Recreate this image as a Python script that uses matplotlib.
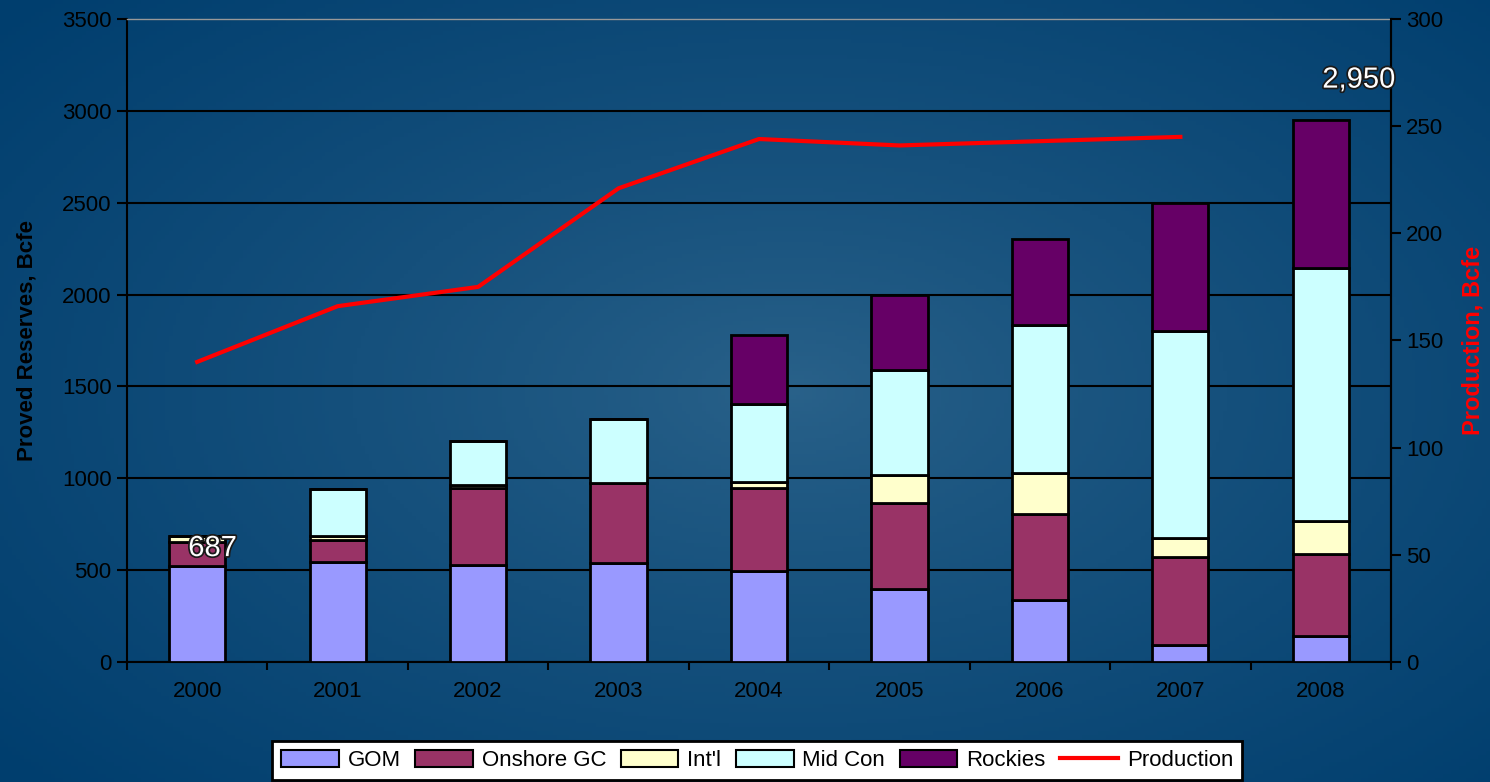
import matplotlib
matplotlib.use("Agg")
import matplotlib.pyplot as plt
import matplotlib.patheffects as pe
from matplotlib.patches import Patch
from matplotlib.lines import Line2D
import numpy as np

plt.rcParams["font.family"] = ["Liberation Sans", "DejaVu Sans"]

years = ["2000", "2001", "2002", "2003", "2004", "2005", "2006", "2007", "2008"]
gom = [520, 545, 530, 540, 497, 395, 340, 95, 140]
onshore = [135, 117, 415, 435, 448, 470, 465, 475, 445]
intl = [32, 23, 20, 0, 33, 155, 225, 105, 180]
midcon = [0, 255, 240, 345, 427, 570, 805, 1125, 1380]
rockies = [0, 0, 0, 0, 375, 410, 465, 700, 805]
production = [140, 166, 175, 221, 244, 241, 243, 245]

series = [("GOM", gom, "#9999ff"), ("Onshore GC", onshore, "#993366"),
          ("Int'l", intl, "#ffffcc"), ("Mid Con", midcon, "#ccffff"),
          ("Rockies", rockies, "#660066")]

fig = plt.figure(figsize=(14.9, 7.82), dpi=100)

# background: dark blue with lighter centre
bg = fig.add_axes([0, 0, 1, 1], zorder=-10)
yy, xx = np.mgrid[0:1:200j, 0:1:380j]
r = np.sqrt(((xx - 0.53) / 0.7) ** 2 + ((yy - 0.5) / 0.75) ** 2)
r = np.clip(r, 0, 1) ** 0.8
c0 = np.array([0x2a, 0x62, 0x8a]) / 255
c1 = np.array([0x00, 0x3e, 0x6e]) / 255
img = c0[None, None, :] * (1 - r[..., None]) + c1[None, None, :] * r[..., None]
bg.imshow(img, aspect="auto", extent=[0, 1, 0, 1])
bg.axis("off")

ax = fig.add_axes([0.0852, 0.1535, 0.8484, 0.8222])
ax.set_facecolor("none")
x = np.arange(len(years))
bottom = np.zeros(len(years))
for name, vals, col in series:
    v = np.array(vals)
    ax.bar(x, v, 0.4, bottom=bottom, color=col, edgecolor="black", linewidth=2, zorder=3)
    bottom += v

ax.set_xlim(-0.5, len(years) - 0.5)
ax.set_ylim(0, 3500)
ax.set_yticks(range(0, 3501, 500))
ax.yaxis.grid(True, color="black", linewidth=1.5, zorder=1)
ax.set_axisbelow(True)
ax.set_xticks(x)
ax.set_xticklabels(years)
ax.set_xticks(np.arange(-0.5, len(years)), minor=True)
ax.tick_params(axis="x", which="major", length=0, pad=14, labelsize=16, labelcolor="black")
ax.tick_params(axis="x", which="minor", length=6, width=1.5, color="black")
ax.tick_params(axis="y", length=7, width=1.5, color="black", labelsize=16, labelcolor="black", pad=4)
for s in ["left", "bottom", "right"]:
    ax.spines[s].set_color("black")
    ax.spines[s].set_linewidth(1.5)
ax.spines["top"].set_color("#999999")
ax.spines["top"].set_linewidth(1)
ax.set_ylabel("Proved Reserves, Bcfe", fontsize=16, fontweight="bold", color="black",
              labelpad=18)

ax2 = ax.twinx()
ax2.plot(x[:len(production)], production, color="red", linewidth=3, zorder=5)
ax2.set_ylim(0, 300)
ax2.set_yticks(range(0, 301, 50))
ax2.tick_params(axis="y", length=7, width=1.5, color="black", labelsize=16, labelcolor="black", pad=4)
ax2.spines["right"].set_color("black")
ax2.spines["right"].set_linewidth(1.5)
for s in ["left", "top", "bottom"]:
    ax2.spines[s].set_visible(False)
ax2.set_ylabel("Production, Bcfe", fontsize=17, fontweight="bold", color="red", labelpad=13)

outline = [pe.withStroke(linewidth=2.5, foreground="#1a1a1a")]
ax2.text(0.11, 620 * 300 / 3500, "687", color="white", fontsize=21, ha="center", va="center",
         path_effects=outline, clip_on=False)
ax2.text(8.27, 3170 * 300 / 3500, "2,950", color="white", fontsize=21, ha="center", va="center",
         path_effects=outline, clip_on=False)

handles = [Patch(facecolor=c, edgecolor="black", linewidth=1.5, label=n) for n, _, c in series]
handles.append(Line2D([0], [0], color="red", linewidth=3, label="Production"))
leg = fig.legend(handles=handles, loc="upper center", bbox_to_anchor=(0.508, 0.0524), ncol=6,
                 fontsize=16, frameon=True, fancybox=False, edgecolor="black", framealpha=1,
                 handlelength=2.6, handleheight=0.8, handletextpad=0.4, columnspacing=0.65,
                 borderpad=0.4, borderaxespad=0)
leg.get_frame().set_linewidth(2)
leg.get_frame().set_facecolor("white")

fig.savefig("out.png", dpi=100)
